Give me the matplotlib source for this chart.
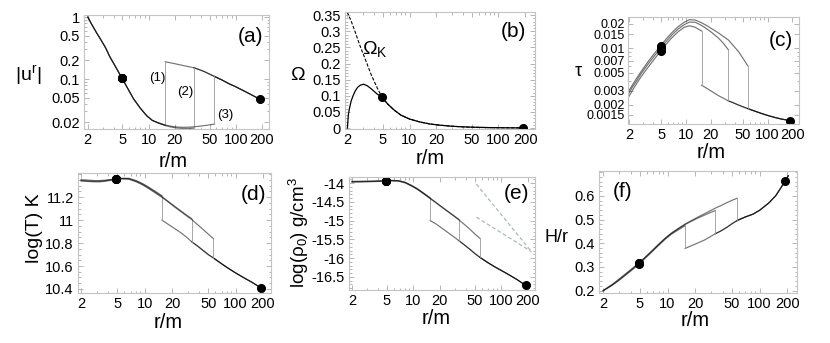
import matplotlib
matplotlib.use('Agg')
import matplotlib.pyplot as plt
from matplotlib.ticker import FixedLocator, NullFormatter

plt.rcParams['font.family'] = ['Liberation Sans', 'DejaVu Sans']
plt.rcParams['mathtext.fontset'] = 'custom'
plt.rcParams['mathtext.rm'] = 'Liberation Sans'
plt.rcParams['mathtext.it'] = 'Liberation Sans:italic'

# radii (units of m)
r_in = [2, 2.2, 2.5, 2.8, 3.2, 3.6, 4.2, 4.9, 5.7, 6.7, 8, 9.5, 11, 13,
        15.5, 18, 21, 25, 29, 33, 38, 44, 50, 57]
r_out = [15.5, 18, 21, 25, 29, 33, 38, 44, 50, 57, 70, 85, 100, 125, 150, 190, 205]
shocks = [15.5, 33, 57]
r_sonic_in = 4.9
r_sonic_out = 190

# (a) |u^r|
ur_1 = [1.0, 0.78, 0.57, 0.44, 0.32, 0.226, 0.155, 0.105, 0.072, 0.048, 0.034,
        0.0255, 0.0215, 0.0195, 0.0180]
ur_2 = [1.0, 0.78, 0.57, 0.44, 0.32, 0.226, 0.155, 0.105, 0.072, 0.048, 0.034,
        0.0255, 0.0214, 0.0193, 0.0177, 0.0168, 0.0162, 0.0159, 0.0159, 0.0161]
ur_3 = [1.0, 0.78, 0.57, 0.44, 0.32, 0.226, 0.155, 0.105, 0.072, 0.048, 0.034,
        0.0256, 0.0216, 0.0196, 0.0181, 0.0173, 0.0168, 0.0166, 0.0167, 0.0169,
        0.0173, 0.0177, 0.0182, 0.0187]
ur_out = [0.19, 0.182, 0.174, 0.165, 0.158, 0.152, 0.142, 0.131, 0.12, 0.11,
          0.096, 0.083, 0.075, 0.064, 0.056, 0.047, 0.044]

# (b) Omega
r_om = [2.0, 2.05, 2.1, 2.2, 2.3, 2.45, 2.6, 2.8, 3.05, 3.35, 3.7, 4.3, 4.9, 5.7,
        6.7, 8, 10, 13, 17, 22, 30, 40, 55, 75, 100, 140, 190, 205]
om_k = [0.36, 0.352, 0.345, 0.333, 0.318, 0.298, 0.277, 0.252, 0.226, 0.197,
        0.166, 0.126, 0.096, 0.074, 0.056, 0.040, 0.028, 0.019, 0.0125, 0.0088,
        0.0056, 0.0036, 0.0023, 0.0015, 0.001, 0.0006, 0.0004, 0.00035]
om = [0.0, 0.04, 0.058, 0.083, 0.098, 0.115, 0.126, 0.133, 0.136, 0.131,
      0.122, 0.106, 0.096, 0.074, 0.056, 0.040, 0.028, 0.019, 0.0125, 0.0088,
      0.0056, 0.0036, 0.0023, 0.0015, 0.001, 0.0006, 0.0004, 0.00035]

# (c) tau
tau_1 = [0.00254, 0.0030, 0.0037, 0.0044, 0.0053, 0.0062, 0.0076, 0.0093, 0.0112,
         0.0135, 0.0160, 0.0182, 0.0190, 0.0182, 0.0164]
tau_2 = [0.0028, 0.0033, 0.0040, 0.0048, 0.0058, 0.0068, 0.0083, 0.0101, 0.0121,
         0.0146, 0.0173, 0.0196, 0.0211, 0.0210, 0.0192, 0.0174, 0.0155, 0.0134,
         0.0114, 0.0096]
tau_3 = [0.0030, 0.0035, 0.0043, 0.0051, 0.0062, 0.0073, 0.0089, 0.0108, 0.0130,
         0.0156, 0.0185, 0.0210, 0.0226, 0.0224, 0.0207, 0.0191, 0.0173, 0.0155,
         0.0139, 0.0127, 0.0108, 0.0091, 0.0075, 0.0061]
tau_out = [0.0035, 0.0032, 0.0029, 0.0026, 0.0024, 0.00224, 0.00212, 0.00199,
           0.00189, 0.0018, 0.00167, 0.00156, 0.00148, 0.00139, 0.00133, 0.00128,
           0.00126]

# (d) log T
T_1 = [11.352, 11.350, 11.347, 11.344, 11.344, 11.347, 11.353, 11.360, 11.364,
       11.364, 11.345, 11.318, 11.288, 11.252, 11.212]
T_2 = [11.345, 11.343, 11.340, 11.338, 11.338, 11.342, 11.350, 11.358, 11.362,
       11.360, 11.340, 11.312, 11.282, 11.245, 11.205, 11.165, 11.125, 11.080,
       11.043, 11.012]
T_3 = [11.340, 11.338, 11.335, 11.333, 11.333, 11.337, 11.345, 11.354, 11.358,
       11.356, 11.335, 11.306, 11.276, 11.238, 11.198, 11.160, 11.118, 11.074,
       11.036, 11.004, 10.962, 10.918, 10.878, 10.838]
T_out = [11.0, 10.965, 10.93, 10.89, 10.85, 10.81, 10.775, 10.735, 10.70, 10.67,
         10.62, 10.575, 10.54, 10.495, 10.46, 10.41, 10.395]

# (e) log rho
rho_1 = [-13.955, -13.955, -13.952, -13.950, -13.948, -13.945, -13.940, -13.935,
         -13.930, -13.935, -13.975, -14.062, -14.145, -14.265, -14.395]
rho_2 = [-13.965, -13.965, -13.962, -13.960, -13.957, -13.953, -13.948, -13.942,
         -13.937, -13.942, -13.985, -14.07, -14.155, -14.275, -14.405, -14.515,
         -14.635, -14.765, -14.875, -14.975]
rho_3 = [-13.975, -13.975, -13.972, -13.970, -13.966, -13.962, -13.957, -13.950,
         -13.945, -13.950, -13.995, -14.08, -14.165, -14.285, -14.415, -14.525,
         -14.645, -14.775, -14.885, -14.985, -15.105, -15.235, -15.36, -15.475]
rho_out = [-15.0, -15.09, -15.2, -15.33, -15.44, -15.54, -15.65, -15.77, -15.88,
           -15.98, -16.12, -16.24, -16.33, -16.46, -16.57, -16.73, -16.78]
ref_r = [52, 220]
ref_a = [-14.03, -15.83]
ref_b = [-14.91, -15.83]

# (f) H/r
h_1 = [0.200, 0.209, 0.222, 0.236, 0.253, 0.269, 0.290, 0.312, 0.336, 0.362,
       0.391, 0.418, 0.438, 0.456, 0.474]
h_2 = [0.200, 0.210, 0.224, 0.238, 0.256, 0.272, 0.293, 0.315, 0.339, 0.365,
       0.394, 0.421, 0.441, 0.460, 0.479, 0.492, 0.505, 0.518, 0.529, 0.538]
h_3 = [0.200, 0.212, 0.226, 0.241, 0.259, 0.275, 0.296, 0.317, 0.341, 0.367,
       0.396, 0.423, 0.443, 0.462, 0.481, 0.495, 0.509, 0.524, 0.537, 0.548,
       0.559, 0.571, 0.581, 0.590]
h_out = [0.378, 0.389, 0.400, 0.413, 0.427, 0.440, 0.452, 0.467, 0.482, 0.496,
         0.511, 0.523, 0.539, 0.569, 0.601, 0.6625, 0.685]

x_ticks = [2, 5, 10, 20, 50, 100, 200]
x_minor = [3, 4, 6, 7, 8, 9, 30, 40, 60, 70, 80, 90]

W, H = 830, 343
fig = plt.figure(figsize=(8.3, 3.43), dpi=100)


def box(l, r, t, b):
    return fig.add_axes([l / W, 1 - b / H, (r - l) / W, (b - t) / H])


def frame(ax, xlim, ylim, yticks, ylabels, ylog=False, yminor=None):
    ax.set_xscale('log')
    if ylog:
        ax.set_yscale('log')
    ax.set_xlim(*xlim)
    ax.set_ylim(*ylim)
    ax.xaxis.set_major_locator(FixedLocator(x_ticks))
    ax.xaxis.set_minor_locator(FixedLocator(x_minor))
    ax.set_xticklabels([str(t) for t in x_ticks])
    ax.xaxis.set_minor_formatter(NullFormatter())
    ax.yaxis.set_major_locator(FixedLocator(yticks))
    ax.set_yticklabels(ylabels)
    if yminor is not None:
        ax.yaxis.set_minor_locator(FixedLocator(yminor))
    ax.yaxis.set_minor_formatter(NullFormatter())
    ax.tick_params(which='both', direction='in', top=True, right=True,
                   color='#aaaaaa', width=0.6, labelsize=10.5, pad=3)
    ax.tick_params(which='major', length=3.5)
    ax.tick_params(which='minor', length=1.8)
    for s in ax.spines.values():
        s.set_color('#c4c4c4')
        s.set_linewidth(0.8)


def shock_panel(ax, inner, outer):
    for rs, y_in in zip(shocks, inner):
        n = len(y_in)
        i0 = r_out.index(rs)
        ax.plot(r_in[:n], y_in, color='k', lw=0.85, alpha=0.55)
        ax.plot(r_out[i0:], outer[i0:], color='k', lw=0.85, alpha=0.55)
        ax.plot([rs, rs], [y_in[-1], outer[i0]], color='#9a9a9a', lw=0.6)
        ax.plot(r_sonic_in, y_in[r_in.index(r_sonic_in)], 'o', color='k', ms=5.5)
    ax.plot(r_sonic_out, outer[r_out.index(r_sonic_out)], 'o', color='k', ms=5.5)


# (a)
ax = box(84, 269, 15, 129)
frame(ax, (1.81, 241), (0.0156, 1.08), [0.02, 0.05, 0.1, 0.2, 0.5, 1],
      ['0.02', '0.05', '0.1', '0.2', '0.5', '1'], ylog=True,
      yminor=[0.03, 0.04, 0.06, 0.07, 0.08, 0.09, 0.3, 0.4, 0.6, 0.7, 0.8, 0.9])
shock_panel(ax, [ur_1, ur_2, ur_3], ur_out)
ax.text(12.7, 0.105, '(1)', fontsize=9.5, ha='center', va='center')
ax.text(26, 0.061, '(2)', fontsize=9.5, ha='center', va='center')
ax.text(76, 0.026, '(3)', fontsize=9.5, ha='center', va='center')
ax.text(0.9, 0.81, '(a)', transform=ax.transAxes, fontsize=15, ha='center', va='center')

# (b)
ax = box(345, 535, 12, 129)
frame(ax, (1.88, 258), (-0.003, 0.36), [0, 0.05, 0.1, 0.15, 0.2, 0.25, 0.3, 0.35],
      ['0', '0.05', '0.1', '0.15', '0.2', '0.25', '0.3', '0.35'],
      yminor=[i * 0.01 for i in range(36)])
ax.plot(r_om, om_k, color='k', lw=0.8, ls=(0, (3, 1.5)))
ax.plot(r_om, om, color='k', lw=0.9)
ax.plot(r_sonic_in, om[r_om.index(r_sonic_in)], 'o', color='k', ms=5.5)
ax.plot(r_sonic_out, om[r_om.index(r_sonic_out)], 'o', color='k', ms=5.5)
ax.text(4.1, 0.245, 'Ω$_\\mathregular{K}$', fontsize=14, ha='center', va='center')
ax.text(0.886, 0.83, '(b)', transform=ax.transAxes, fontsize=15, ha='center', va='center')

# (c)
ax = box(628, 799, 17, 124)
frame(ax, (1.95, 242), (0.00116, 0.0244),
      [0.0015, 0.002, 0.003, 0.005, 0.007, 0.01, 0.015, 0.02],
      ['0.0015', '0.002', '0.003', '0.005', '0.007', '0.01', '0.015', '0.02'],
      ylog=True)
ax.tick_params(axis='y', labelsize=9, pad=2)
shock_panel(ax, [tau_1, tau_2, tau_3], tau_out)
ax.text(0.895, 0.785, '(c)', transform=ax.transAxes, fontsize=15, ha='center', va='center')

# (d)
ax = box(78, 271, 173, 293)
frame(ax, (1.85, 245), (10.365, 11.41), [10.4, 10.6, 10.8, 11.0, 11.2],
      ['10.4', '10.6', '10.8', '11', '11.2'],
      yminor=[10.4 + 0.05 * i for i in range(21)])
shock_panel(ax, [T_1, T_2, T_3], T_out)
ax.text(0.91, 0.82, '(d)', transform=ax.transAxes, fontsize=15, ha='center', va='center')

# (e)
ax = box(349, 535, 177, 290)
frame(ax, (1.85, 241), (-16.85, -13.84), [-16.5, -16, -15.5, -15, -14.5, -14],
      ['-16.5', '-16', '-15.5', '-15', '-14.5', '-14'],
      yminor=[-16.8 + 0.1 * i for i in range(30)])
ax.plot(ref_r, ref_a, color='#a9bab4', lw=0.9, ls=(0, (3, 2)))
ax.plot(ref_r, ref_b, color='#a9bab4', lw=0.9, ls=(0, (3, 2)))
shock_panel(ax, [rho_1, rho_2, rho_3], rho_out)
ax.text(0.90, 0.855, '(e)', transform=ax.transAxes, fontsize=15, ha='center', va='center')

# (f)
ax = box(599, 797, 171, 293)
frame(ax, (1.8, 255), (0.19, 0.705), [0.2, 0.3, 0.4, 0.5, 0.6],
      ['0.2', '0.3', '0.4', '0.5', '0.6'],
      yminor=[0.2 + 0.02 * i for i in range(26)])
shock_panel(ax, [h_1, h_2, h_3], h_out)
ax.text(0.12, 0.83, '(f)', transform=ax.transAxes, fontsize=15, ha='center', va='center')


# axis titles
def ftext(x, y, s, **kw):
    fig.text(x / W, 1 - y / H, s, ha='center', va='center', **kw)


for x, y in [(173, 161), (430, 158), (711, 152), (168, 322), (436, 318), (695, 320)]:
    ftext(x, y, 'r/m', fontsize=14.5)
ftext(28, 75, '|u$^\\mathregular{r}$|', fontsize=14)
ftext(297, 75, 'Ω', fontsize=14)
ftext(578, 71, 'τ', fontsize=13)
ftext(34, 228, 'log(T) K', fontsize=14, rotation=90)
ftext(299, 233, 'log(ρ$_\\mathregular{0}$) g/cm$^\\mathregular{3}$', fontsize=13.5, rotation=90)
ftext(556, 238, 'H/r', fontsize=13)

fig.savefig('out.png', dpi=100)
